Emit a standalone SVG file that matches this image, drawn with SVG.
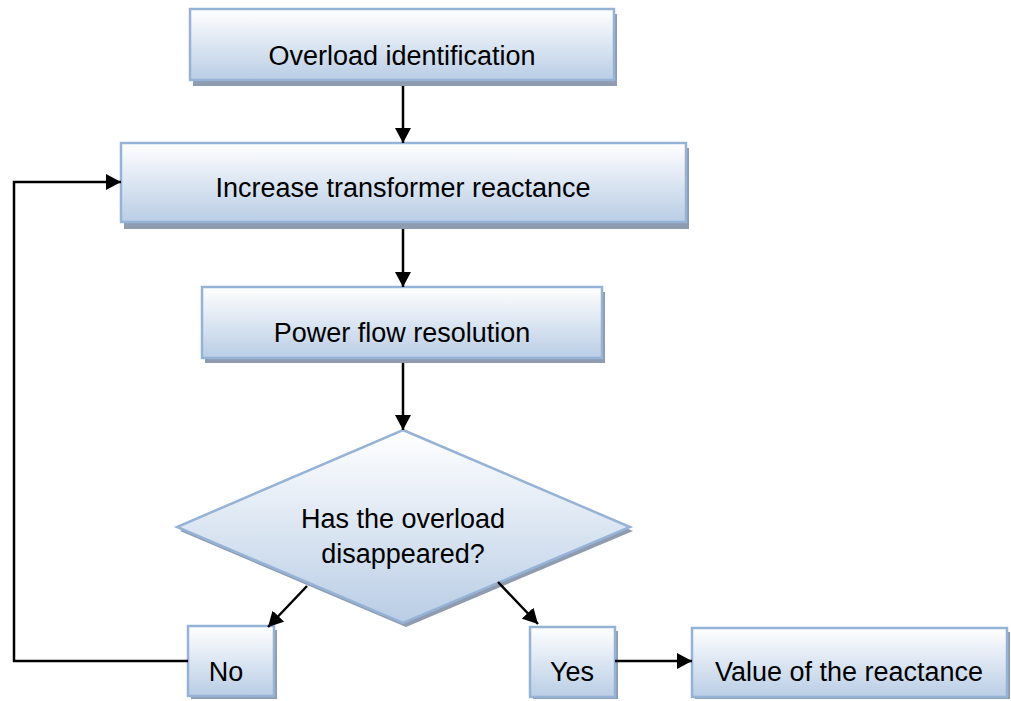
<svg xmlns="http://www.w3.org/2000/svg" width="1011" height="701" viewBox="0 0 1011 701">
<defs>
<linearGradient id="g" x1="0" y1="0" x2="0" y2="1">
<stop offset="0" stop-color="#ffffff"/>
<stop offset="1" stop-color="#b9cde5"/>
</linearGradient>
<marker id="ah" markerUnits="userSpaceOnUse" markerWidth="16" markerHeight="16" refX="15" refY="8" orient="auto">
<path d="M0,0 L15,8 L0,16 Z" fill="#000"/>
</marker>
<style>
.sh{fill:#8f9cb0}
.bx{fill:url(#g);stroke:#95b3d7;stroke-width:2.5}
.t{font-family:"Liberation Sans",Arial,sans-serif;font-size:27px;fill:#000;text-anchor:middle}
.c{fill:none;stroke:#000;stroke-width:2.5}
</style>
</defs>
<rect width="1011" height="701" fill="#fff"/>
<g id="n1">
<rect class="sh" x="193" y="14" width="424" height="72"/>
<rect class="bx" x="190" y="9" width="424" height="71"/>
<text class="t" x="402" y="65">Overload identification</text>
</g>
<g id="n2">
<rect class="sh" x="124" y="148" width="565" height="81"/>
<rect class="bx" x="121" y="143" width="565" height="79"/>
<text class="t" x="403" y="197">Increase transformer reactance</text>
</g>
<g id="n3">
<rect class="sh" x="205" y="292" width="400" height="71"/>
<rect class="bx" x="202" y="287" width="400" height="71"/>
<text class="t" x="402" y="342">Power flow resolution</text>
</g>
<g id="n4">
<polygon class="sh" points="406,434 633,531 406,627 180,531"/>
<polygon class="bx" points="403,430 630,527 403,623 177,527"/>
<text class="t" x="403" y="528">Has the overload</text>
<text class="t" x="403" y="563">disappeared?</text>
</g>
<g id="n5">
<rect class="sh" x="191" y="630" width="86" height="69"/>
<rect class="bx" x="188" y="626" width="86" height="70"/>
<text class="t" x="226" y="681">No</text>
</g>
<g id="n6">
<rect class="sh" x="533" y="631" width="85" height="68"/>
<rect class="bx" x="530" y="627" width="85" height="70"/>
<text class="t" x="572" y="681">Yes</text>
</g>
<g id="n7">
<rect class="sh" x="695" y="632" width="315" height="67"/>
<rect class="bx" x="692" y="628" width="315" height="69"/>
<text class="t" x="849" y="681">Value of the reactance</text>
</g>
<g id="connectors">
<line class="c" x1="403" y1="86" x2="403" y2="143" marker-end="url(#ah)"/>
<line class="c" x1="403" y1="229" x2="403" y2="287" marker-end="url(#ah)"/>
<line class="c" x1="403" y1="363" x2="403" y2="430" marker-end="url(#ah)"/>
<line class="c" x1="307" y1="586" x2="268" y2="627" marker-end="url(#ah)"/>
<line class="c" x1="498" y1="582" x2="538" y2="624" marker-end="url(#ah)"/>
<polyline class="c" points="188,661 14,661 14,182 121,182" marker-end="url(#ah)"/>
<line class="c" x1="615" y1="661" x2="692" y2="661" marker-end="url(#ah)"/>
</g>
</svg>
